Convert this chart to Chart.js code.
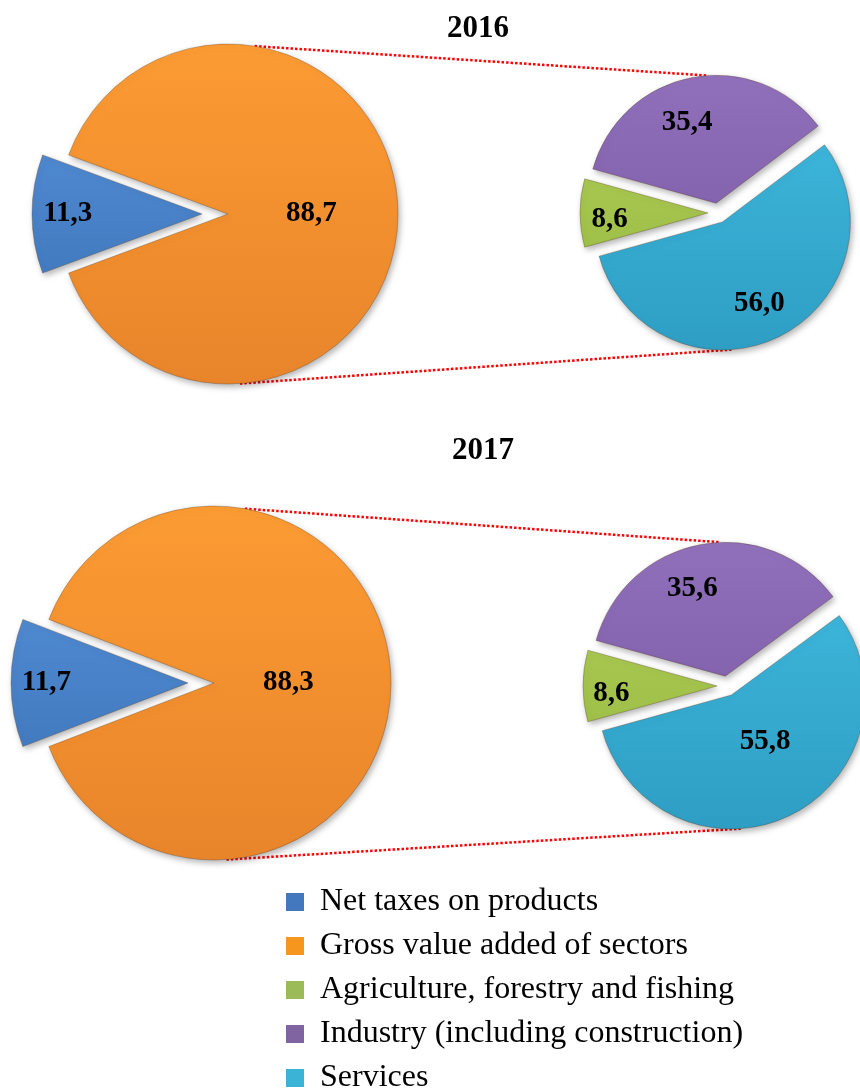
<!DOCTYPE html>
<html>
<head>
<meta charset="utf-8">
<script src="https://cdn.jsdelivr.net/npm/chart.js@4.4.1/dist/chart.umd.min.js"></script>
<style>
html, body { margin: 0; padding: 0; background: #fff; }
#page { position: relative; width: 860px; height: 1089px; overflow: hidden; background: #fff;
        font-family: "Liberation Serif", "Times New Roman", serif; }
#page canvas { position: absolute; }
.title { position: absolute; font-weight: bold; font-size: 31px; color: #000; line-height: 1;
         transform: translate(-50%, -50%); white-space: nowrap; }
</style>
</head>
<body>
<div id="page">
  <canvas id="lines" width="860" height="1089" style="left:0;top:0;width:860px;height:1089px"></canvas>
</div>
<script>
// ---------------- DATA ----------------
const years = ['2016', '2017'];
const categoriesMain = ['Net taxes on products', 'Gross value added of sectors'];
const categoriesSplit = ['Agriculture, forestry and fishing', 'Industry (including construction)', 'Services'];
const main2016 = [11.3, 88.7];
const split2016 = [8.6, 35.4, 56.0];
const main2017 = [11.7, 88.3];
const split2017 = [8.6, 35.6, 55.8];
const legendOrder = ['Net taxes on products', 'Gross value added of sectors',
  'Agriculture, forestry and fishing', 'Industry (including construction)', 'Services'];

// ---------------- STYLE ----------------
const palette = {
  'Net taxes on products':              { light: '#5C9AE0', dark: '#3569AF', flat: '#4377BE' },
  'Gross value added of sectors':       { light: '#FE9E34', dark: '#E6822A', flat: '#F7961E' },
  'Agriculture, forestry and fishing':  { light: '#B6D35E', dark: '#90B33B', flat: '#9BBB59' },
  'Industry (including construction)':  { light: '#9272BC', dark: '#7452A0', flat: '#8064A2' },
  'Services':                           { light: '#42BDE2', dark: '#2D9CC2', flat: '#3BB3D6' }
};

const layoutCfg = {
  '2016': {
    title: [478, 26],
    main:  { cx: 226, cy: 214, r: 170, explode: [24, 2],  labelR: [0.79, 0.49], labelDA: [0, 0] },
    split: { cx: 718, cy: 213, r: 128, explode: [10, 10, 10], labelR: [0.77, 0.67, 0.70], labelDA: [-4, -9, 2] },
    lineAngles: { bigTop: -81, bigBottom: 86, smallTop: -94, smallBottom: 86 }
  },
  '2017': {
    title: [483, 448],
    main:  { cx: 214, cy: 683, r: 177, explode: [26, 0],  labelR: [0.80, 0.42], labelDA: [0, 0] },
    split: { cx: 727, cy: 686, r: 134, explode: [10, 10, 10], labelR: [0.79, 0.70, 0.43], labelDA: [-4, -10, -10] },
    lineAngles: { bigTop: -80, bigBottom: 86, smallTop: -92, smallBottom: 86 }
  }
};

// ---------------- PLUGINS ----------------
const explodePlugin = {
  id: 'explode',
  afterDatasetUpdate(chart, args, opts) {
    const ex = opts.distances || [];
    args.meta.data.forEach((el, i) => {
      const d = ex[i] || 0;
      const mid = (el.startAngle + el.endAngle) / 2;
      el.x += Math.cos(mid) * d;
      el.y += Math.sin(mid) * d;
    });
  }
};

const shadowPlugin = {
  id: 'pieShadow',
  beforeDatasetDraw(chart) {
    const c = chart.ctx;
    c.save();
    c.shadowColor = 'rgba(0,0,0,0.30)';
    c.shadowBlur = 6;
    c.shadowOffsetX = 2;
    c.shadowOffsetY = 3;
  },
  afterDatasetDraw(chart) { chart.ctx.restore(); }
};

const valueLabelPlugin = {
  id: 'valueLabels',
  afterDatasetsDraw(chart, args, opts) {
    const ctx = chart.ctx;
    const meta = chart.getDatasetMeta(0);
    const values = chart.data.datasets[0].data;
    ctx.save();
    ctx.font = 'bold 29px "Liberation Serif", "Times New Roman", serif';
    ctx.fillStyle = '#000';
    ctx.textAlign = 'center';
    ctx.textBaseline = 'middle';
    meta.data.forEach((el, i) => {
      const mid = (el.startAngle + el.endAngle) / 2 + (opts.angleShift[i] || 0) * Math.PI / 180;
      const rr = el.outerRadius * opts.radiusFraction[i];
      ctx.fillText(values[i].toFixed(1).replace('.', ','), el.x + Math.cos(mid) * rr, el.y + Math.sin(mid) * rr);
    });
    ctx.restore();
  }
};

function fillFor(labels) {
  return (context) => {
    const chart = context.chart;
    const c = palette[labels[context.dataIndex]];
    const area = chart.chartArea;
    if (!area) return c.flat;
    const g = chart.ctx.createLinearGradient(0, area.top, 0, area.bottom);
    g.addColorStop(0, c.light);
    g.addColorStop(1, c.dark);
    return g;
  };
}

const page = document.getElementById('page');

function makePie(labels, values, cfg) {
  const half = Math.ceil(cfg.r + Math.max(...cfg.explode) + 14);
  const cv = document.createElement('canvas');
  cv.width = half * 2; cv.height = half * 2;
  cv.style.width = (half * 2) + 'px'; cv.style.height = (half * 2) + 'px';
  cv.style.left = (cfg.cx - half) + 'px'; cv.style.top = (cfg.cy - half) + 'px';
  page.appendChild(cv);
  const total = values.reduce((a, b) => a + b, 0);
  const rotation = 270 - (values[0] / total * 360) / 2;
  const chart = new Chart(cv, {
    type: 'pie',
    data: {
      labels: labels,
      datasets: [{
        data: values,
        backgroundColor: fillFor(labels),
        borderColor: 'rgba(80,50,20,0.30)',
        borderWidth: 1,
        radius: cfg.r,
        rotation: rotation
      }]
    },
    options: {
      responsive: false,
      animation: false,
      events: [],
      radius: cfg.r,
      rotation: rotation,
      layout: { padding: 0 },
      plugins: {
        legend: { display: false },
        tooltip: { enabled: false },
        explode: { distances: cfg.explode },
        valueLabels: { radiusFraction: cfg.labelR, angleShift: cfg.labelDA }
      }
    },
    plugins: [explodePlugin, shadowPlugin, valueLabelPlugin]
  });
  return { chart, left: cfg.cx - half, top: cfg.cy - half };
}

function arcPoint(p, el, deg) {
  const a = deg * Math.PI / 180;
  return [p.left + el.x + Math.cos(a) * el.outerRadius, p.top + el.y + Math.sin(a) * el.outerRadius];
}

const lctx = document.getElementById('lines').getContext('2d');

const seriesByYear = {
  '2016': { main: main2016, split: split2016 },
  '2017': { main: main2017, split: split2017 }
};

years.forEach((y) => {
  const cfg = layoutCfg[y];
  const t = document.createElement('div');
  t.className = 'title';
  t.textContent = y;
  t.style.left = cfg.title[0] + 'px';
  t.style.top = cfg.title[1] + 'px';
  page.appendChild(t);

  const big = makePie(categoriesMain, seriesByYear[y].main, cfg.main);
  const small = makePie(categoriesSplit, seriesByYear[y].split, cfg.split);

  const bigEl = big.chart.getDatasetMeta(0).data[1];
  const topEl = small.chart.getDatasetMeta(0).data[1];
  const botEl = small.chart.getDatasetMeta(0).data[2];
  const A = cfg.lineAngles;
  const p1 = arcPoint(big, bigEl, A.bigTop), p2 = arcPoint(small, topEl, A.smallTop);
  const p3 = arcPoint(big, bigEl, A.bigBottom), p4 = arcPoint(small, botEl, A.smallBottom);
  lctx.save();
  lctx.strokeStyle = '#FF0000';
  lctx.lineWidth = 2.5;
  lctx.setLineDash([2.5, 2]);
  lctx.beginPath();
  lctx.moveTo(p1[0], p1[1]); lctx.lineTo(p2[0], p2[1]);
  lctx.moveTo(p3[0], p3[1]); lctx.lineTo(p4[0], p4[1]);
  lctx.stroke();
  lctx.restore();
});

// ---------------- LEGEND ----------------
const lg = document.createElement('canvas');
lg.width = 586; lg.height = 520;
lg.style.width = '586px'; lg.style.height = '520px';
lg.style.left = '274px'; lg.style.top = '874px';
page.appendChild(lg);
new Chart(lg, {
  type: 'bar',
  data: {
    labels: [],
    datasets: legendOrder.map((name) => ({ label: name, data: [], backgroundColor: palette[name].flat, borderWidth: 0 }))
  },
  options: {
    responsive: false,
    animation: false,
    events: [],
    layout: { padding: 0 },
    scales: { x: { display: false }, y: { display: false } },
    plugins: {
      tooltip: { enabled: false },
      legend: {
        position: 'top',
        align: 'start',
        labels: {
          font: { family: '"Liberation Serif", "Times New Roman", serif', size: 32 },
          color: '#000',
          boxWidth: 18,
          boxHeight: 18,
          padding: 12
        }
      }
    }
  }
});
</script>
</body>
</html>
